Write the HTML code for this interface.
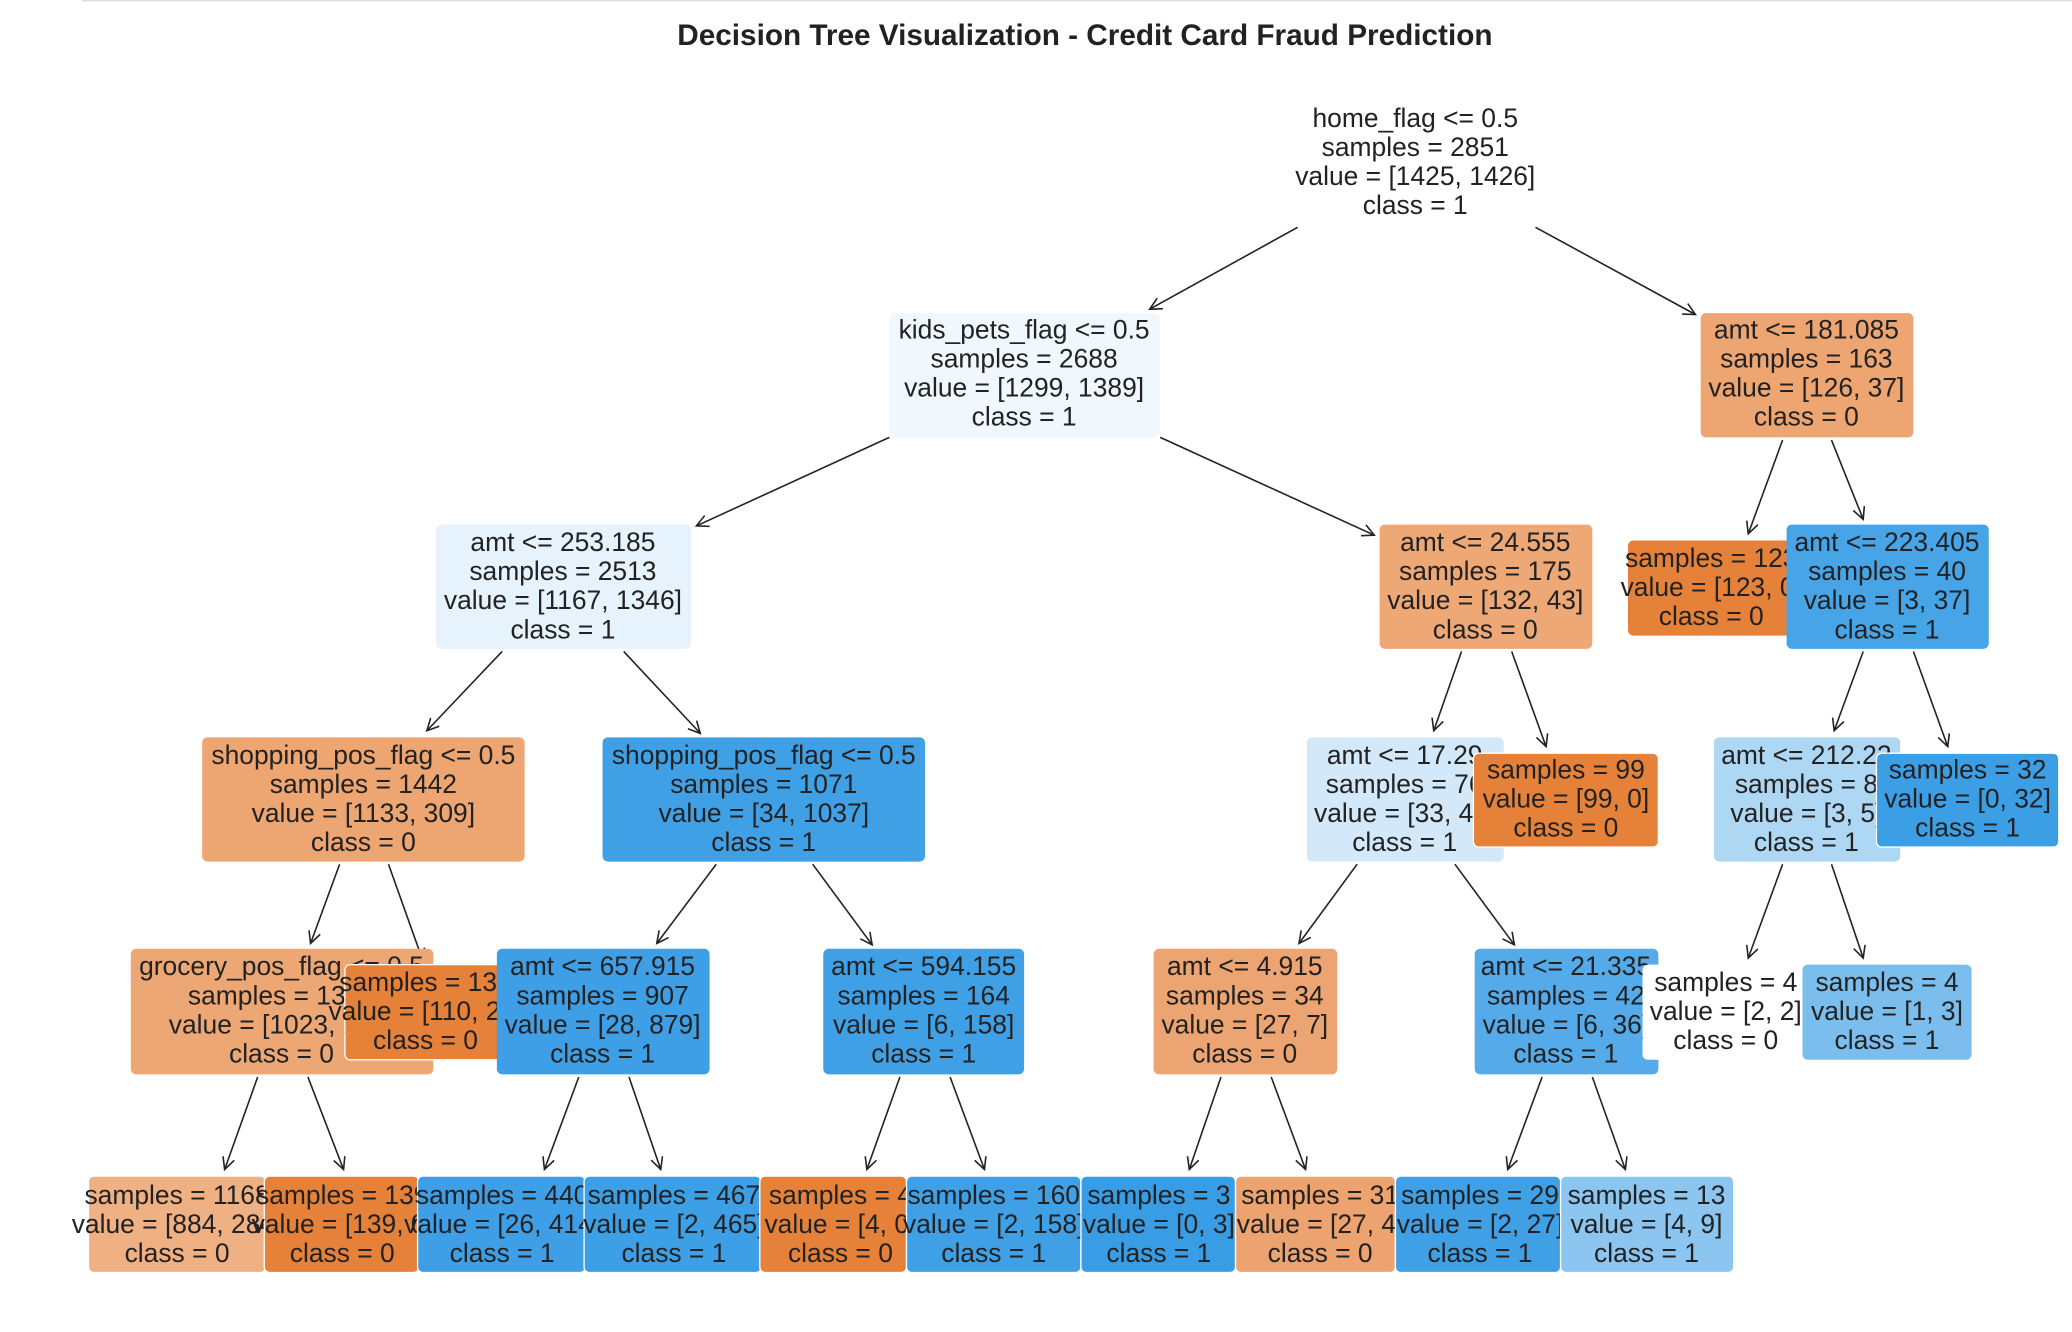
<!DOCTYPE html>
<html><head><meta charset="utf-8"><style>
html,body{margin:0;padding:0;background:#fff;}
svg{display:block;}
text{font-family:"Liberation Sans",Arial,sans-serif;fill:#222;}
</style></head><body>
<svg width="2072" height="1332" viewBox="0 0 1568 1008" xmlns="http://www.w3.org/2000/svg">
<defs>
<marker id="a" markerWidth="12" markerHeight="12" refX="10" refY="5" orient="auto" markerUnits="userSpaceOnUse">
<polyline points="1,0.5 10,5 1,9.5" fill="none" stroke="#222" stroke-width="1.2"/>
</marker>
</defs>
<line x1="62" y1="0.5" x2="1568" y2="0.5" stroke="#ddd" stroke-width="1"/>
<text x="821" y="34" text-anchor="middle" font-size="22.5" font-weight="bold">Decision Tree Visualization - Credit Card Fraud Prediction</text>
<g stroke="#222" stroke-width="1.2" marker-end="url(#a)">
<line x1="982" y1="172" x2="870" y2="234"/>
<line x1="1162" y1="172" x2="1283" y2="238"/>
<line x1="673" y1="331" x2="527" y2="398"/>
<line x1="878" y1="331" x2="1040" y2="405"/>
<line x1="1349" y1="333" x2="1323" y2="404"/>
<line x1="1386" y1="333" x2="1410" y2="393"/>
<line x1="380" y1="493" x2="323" y2="553"/>
<line x1="472" y1="493" x2="530" y2="555"/>
<line x1="1106" y1="493" x2="1085" y2="553"/>
<line x1="1144" y1="493" x2="1170" y2="565"/>
<line x1="1410" y1="493" x2="1388" y2="553"/>
<line x1="1448" y1="493" x2="1474" y2="565"/>
<line x1="257" y1="654" x2="235" y2="714"/>
<line x1="294" y1="654" x2="320" y2="727"/>
<line x1="542" y1="654" x2="497" y2="714"/>
<line x1="615" y1="654" x2="660" y2="715"/>
<line x1="1027" y1="654" x2="983" y2="714"/>
<line x1="1101" y1="654" x2="1146" y2="715"/>
<line x1="1349" y1="654" x2="1323" y2="725"/>
<line x1="1386" y1="654" x2="1410" y2="725"/>
<line x1="195" y1="815" x2="170" y2="885"/>
<line x1="233" y1="815" x2="260" y2="885"/>
<line x1="438" y1="815" x2="412" y2="885"/>
<line x1="476" y1="815" x2="500" y2="885"/>
<line x1="681" y1="815" x2="656" y2="885"/>
<line x1="719" y1="815" x2="745" y2="885"/>
<line x1="924" y1="815" x2="900" y2="885"/>
<line x1="962" y1="815" x2="988" y2="885"/>
<line x1="1167" y1="815" x2="1141" y2="885"/>
<line x1="1205" y1="815" x2="1230" y2="885"/>
</g>
<g font-size="20" text-anchor="middle">
<text x="1071" y="96">home_flag &lt;= 0.5</text><text x="1071" y="118">samples = 2851</text><text x="1071" y="140">value = [1425, 1426]</text><text x="1071" y="162">class = 1</text>
<rect x="673" y="237" width="205" height="94" rx="4" fill="#f1f8fd"/>
<text x="775" y="256">kids_pets_flag &lt;= 0.5</text><text x="775" y="278">samples = 2688</text><text x="775" y="300">value = [1299, 1389]</text><text x="775" y="322">class = 1</text>
<rect x="1287" y="237" width="161" height="94" rx="4" fill="#eda572"/>
<text x="1367" y="256">amt &lt;= 181.085</text><text x="1367" y="278">samples = 163</text><text x="1367" y="300">value = [126, 37]</text><text x="1367" y="322">class = 0</text>
<rect x="330" y="397" width="193" height="94" rx="4" fill="#e6f2fc"/>
<text x="426" y="417">amt &lt;= 253.185</text><text x="426" y="439">samples = 2513</text><text x="426" y="461">value = [1167, 1346]</text><text x="426" y="483">class = 1</text>
<rect x="1044" y="397" width="161" height="94" rx="4" fill="#eda876"/>
<text x="1124" y="417">amt &lt;= 24.555</text><text x="1124" y="439">samples = 175</text><text x="1124" y="461">value = [132, 43]</text><text x="1124" y="483">class = 0</text>
<rect x="1232" y="409" width="125" height="72" rx="4" fill="#e58139"/>
<text x="1295" y="429">samples = 123</text><text x="1295" y="451">value = [123, 0]</text><text x="1295" y="473">class = 0</text>
<rect x="1352" y="397" width="153" height="94" rx="4" fill="#47a4e7"/>
<text x="1428" y="417">amt &lt;= 223.405</text><text x="1428" y="439">samples = 40</text><text x="1428" y="461">value = [3, 37]</text><text x="1428" y="483">class = 1</text>
<rect x="153" y="558" width="244" height="94" rx="4" fill="#eda571"/>
<text x="275" y="578">shopping_pos_flag &lt;= 0.5</text><text x="275" y="600">samples = 1442</text><text x="275" y="622">value = [1133, 309]</text><text x="275" y="644">class = 0</text>
<rect x="456" y="558" width="244" height="94" rx="4" fill="#3fa0e6"/>
<text x="578" y="578">shopping_pos_flag &lt;= 0.5</text><text x="578" y="600">samples = 1071</text><text x="578" y="622">value = [34, 1037]</text><text x="578" y="644">class = 1</text>
<rect x="989" y="558" width="149" height="94" rx="4" fill="#d3e9f9"/>
<text x="1063" y="578">amt &lt;= 17.29</text><text x="1063" y="600">samples = 76</text><text x="1063" y="622">value = [33, 43]</text><text x="1063" y="644">class = 1</text>
<rect x="1115" y="570" width="140" height="71" rx="4" fill="#e58139" stroke="#fff"/>
<text x="1185" y="589">samples = 99</text><text x="1185" y="611">value = [99, 0]</text><text x="1185" y="633">class = 0</text>
<rect x="1297" y="558" width="141" height="94" rx="4" fill="#aed7f4"/>
<text x="1367" y="578">amt &lt;= 212.22</text><text x="1367" y="600">samples = 8</text><text x="1367" y="622">value = [3, 5]</text><text x="1367" y="644">class = 1</text>
<rect x="1420" y="570" width="138" height="71" rx="4" fill="#3c9ee5" stroke="#fff"/>
<text x="1489" y="589">samples = 32</text><text x="1489" y="611">value = [0, 32]</text><text x="1489" y="633">class = 1</text>
<rect x="99" y="718" width="229" height="95" rx="4" fill="#eda774"/>
<text x="213" y="738">grocery_pos_flag &lt;= 0.5</text><text x="213" y="760">samples = 1307</text><text x="213" y="782">value = [1023, 284]</text><text x="213" y="804">class = 0</text>
<rect x="261" y="730" width="119" height="72" rx="4" fill="#e58139" stroke="#fff" stroke-width="1"/>
<text x="322" y="750">samples = 135</text><text x="322" y="772">value = [110, 25]</text><text x="322" y="794">class = 0</text>
<rect x="376" y="718" width="161" height="95" rx="4" fill="#3e9fe6"/>
<text x="456" y="738">amt &lt;= 657.915</text><text x="456" y="760">samples = 907</text><text x="456" y="782">value = [28, 879]</text><text x="456" y="804">class = 1</text>
<rect x="623" y="718" width="152" height="95" rx="4" fill="#40a0e6"/>
<text x="699" y="738">amt &lt;= 594.155</text><text x="699" y="760">samples = 164</text><text x="699" y="782">value = [6, 158]</text><text x="699" y="804">class = 1</text>
<rect x="873" y="718" width="139" height="95" rx="4" fill="#eca572"/>
<text x="942" y="738">amt &lt;= 4.915</text><text x="942" y="760">samples = 34</text><text x="942" y="782">value = [27, 7]</text><text x="942" y="804">class = 0</text>
<rect x="1116" y="718" width="139" height="95" rx="4" fill="#55abe9"/>
<text x="1185" y="738">amt &lt;= 21.335</text><text x="1185" y="760">samples = 42</text><text x="1185" y="782">value = [6, 36]</text><text x="1185" y="804">class = 1</text>
<rect x="1243" y="730" width="119" height="72" rx="4" fill="#ffffff"/>
<text x="1306" y="750">samples = 4</text><text x="1306" y="772">value = [2, 2]</text><text x="1306" y="794">class = 0</text>
<rect x="1364" y="730" width="128" height="72" rx="4" fill="#7bbeee"/>
<text x="1428" y="750">samples = 4</text><text x="1428" y="772">value = [1, 3]</text><text x="1428" y="794">class = 1</text>
<rect x="67" y="890" width="134" height="73" rx="4" fill="#efb083" stroke="#fff"/>
<text x="134" y="911">samples = 1168</text><text x="134" y="933">value = [884, 284]</text><text x="134" y="955">class = 0</text>
<rect x="200" y="890" width="117" height="73" rx="4" fill="#e58139" stroke="#fff"/>
<text x="259" y="911">samples = 139</text><text x="259" y="933">value = [139, 0]</text><text x="259" y="955">class = 0</text>
<rect x="316" y="890" width="127" height="73" rx="4" fill="#3e9fe6" stroke="#fff"/>
<text x="380" y="911">samples = 440</text><text x="380" y="933">value = [26, 414]</text><text x="380" y="955">class = 1</text>
<rect x="442" y="890" width="134" height="73" rx="4" fill="#3d9fe5" stroke="#fff"/>
<text x="510" y="911">samples = 467</text><text x="510" y="933">value = [2, 465]</text><text x="510" y="955">class = 1</text>
<rect x="575" y="890" width="111" height="73" rx="4" fill="#e58139" stroke="#fff"/>
<text x="636" y="911">samples = 4</text><text x="636" y="933">value = [4, 0]</text><text x="636" y="955">class = 0</text>
<rect x="686" y="890" width="132" height="73" rx="4" fill="#3fa0e6" stroke="#fff"/>
<text x="752" y="911">samples = 160</text><text x="752" y="933">value = [2, 158]</text><text x="752" y="955">class = 1</text>
<rect x="818" y="890" width="117" height="73" rx="4" fill="#399de5" stroke="#fff"/>
<text x="877" y="911">samples = 3</text><text x="877" y="933">value = [0, 3]</text><text x="877" y="955">class = 1</text>
<rect x="935" y="890" width="121" height="73" rx="4" fill="#eca36f" stroke="#fff"/>
<text x="999" y="911">samples = 31</text><text x="999" y="933">value = [27, 4]</text><text x="999" y="955">class = 0</text>
<rect x="1056" y="890" width="125" height="73" rx="4" fill="#40a0e6" stroke="#fff"/>
<text x="1120" y="911">samples = 29</text><text x="1120" y="933">value = [2, 27]</text><text x="1120" y="955">class = 1</text>
<rect x="1181" y="890" width="131" height="73" rx="4" fill="#8cc6f0" stroke="#fff"/>
<text x="1246" y="911">samples = 13</text><text x="1246" y="933">value = [4, 9]</text><text x="1246" y="955">class = 1</text>
</g>
</svg>
</body></html>
